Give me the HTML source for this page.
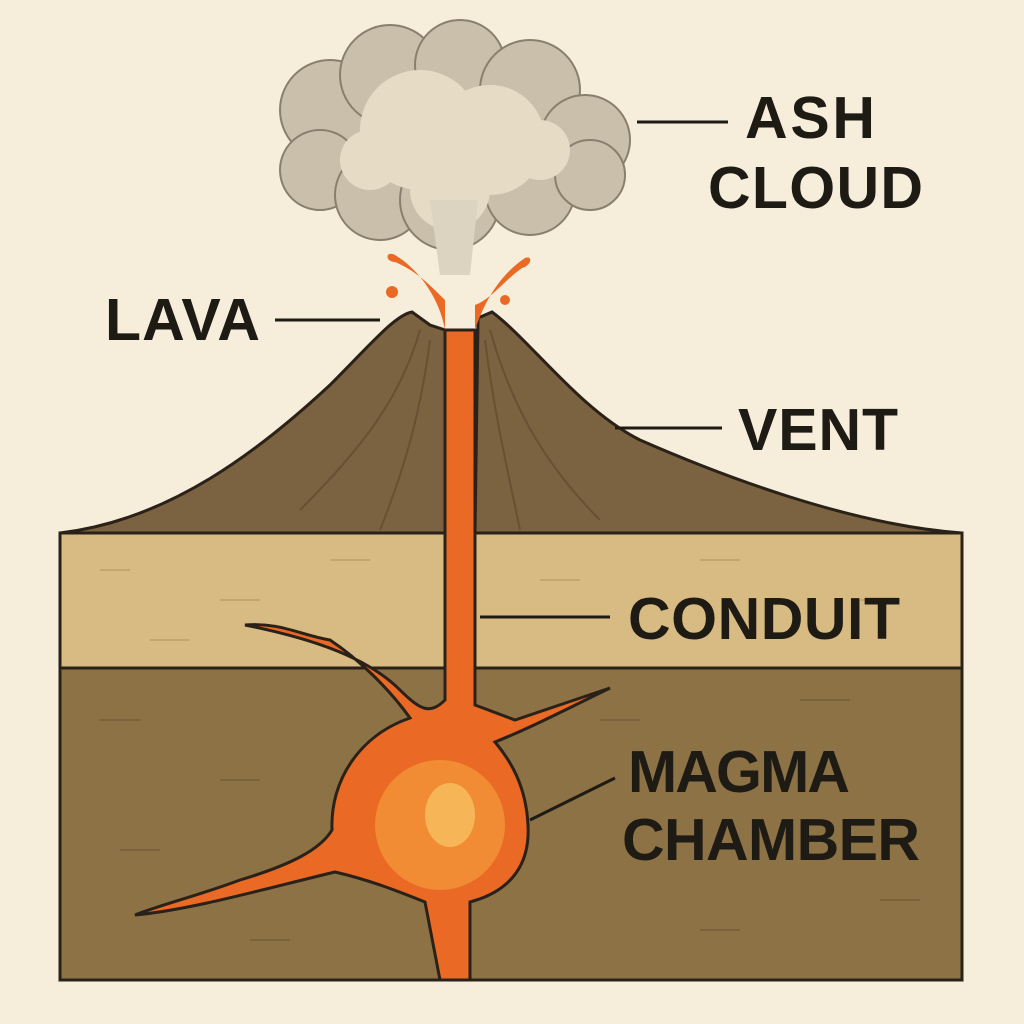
<!DOCTYPE html>
<html><head><meta charset="utf-8"><style>
html,body{margin:0;padding:0;background:#f6eedb;}
svg{display:block}
text{font-family:"Liberation Sans",sans-serif;font-weight:bold;fill:#1e1a14;font-size:59px}
</style></head><body>
<svg width="1024" height="1024" viewBox="0 0 1024 1024">
<rect width="1024" height="1024" fill="#f6eedb"/>
<rect x="60" y="668" width="902" height="312" fill="#8c7245" stroke="#2a2118" stroke-width="3"/>
<rect x="60" y="533" width="902" height="135" fill="#d8bb83" stroke="#2a2118" stroke-width="3"/>
<g stroke="#b89a62" stroke-width="2" opacity="0.6">
<line x1="100" y1="570" x2="130" y2="570"/><line x1="220" y1="600" x2="260" y2="600"/><line x1="330" y1="560" x2="370" y2="560"/><line x1="540" y1="580" x2="580" y2="580"/><line x1="700" y1="560" x2="740" y2="560"/><line x1="860" y1="600" x2="900" y2="600"/><line x1="150" y1="640" x2="190" y2="640"/>
</g>
<g stroke="#6f5833" stroke-width="2" opacity="0.6">
<line x1="100" y1="720" x2="140" y2="720"/><line x1="220" y1="780" x2="260" y2="780"/><line x1="120" y1="850" x2="160" y2="850"/><line x1="600" y1="720" x2="640" y2="720"/><line x1="800" y1="700" x2="850" y2="700"/><line x1="700" y1="930" x2="740" y2="930"/><line x1="250" y1="940" x2="290" y2="940"/><line x1="880" y1="900" x2="920" y2="900"/>
</g>
<path d="M60 533 C170 520 260 450 330 385 C370 345 395 315 412 312 L430 325 L445 330 L445 533 Z" fill="#7b6240" stroke="#2a2118" stroke-width="3"/>
<path d="M962 533 C850 525 720 475 640 440 C580 410 530 340 492 312 L478 318 L475 533 Z" fill="#7b6240" stroke="#2a2118" stroke-width="3"/>
<g stroke="#5d4a30" stroke-width="2" fill="none" opacity="0.7">
<path d="M420 330 C400 400 360 450 300 510"/><path d="M430 340 C420 420 400 480 380 530"/><path d="M490 330 C510 400 540 460 600 520"/><path d="M485 340 C495 420 510 480 520 530"/>
</g>
<path d="M445 330 L445 700 C430 715 420 710 400 690 C370 660 320 640 245 625 C280 622 300 635 330 640 C360 660 390 690 410 718 C360 735 330 780 332 830 C320 850 290 865 240 880 C200 895 160 905 135 915 C190 910 260 890 335 872 C370 880 400 892 425 902 L440 980 L470 980 L470 902 C515 890 530 860 528 825 C526 785 510 760 495 742 C530 728 565 710 610 688 C580 698 545 710 515 720 L475 705 L475 330 Z" fill="#ea6a25" stroke="#2a2118" stroke-width="3"/>
<ellipse cx="440" cy="825" rx="65" ry="65" fill="#f39a3a" opacity="0.7"/>
<ellipse cx="450" cy="815" rx="25" ry="32" fill="#f8c060" opacity="0.8"/>
<path d="M445 330 C440 300 420 270 395 255 C385 250 385 262 395 262 C415 270 430 285 445 300 Z" fill="#ea6a25"/>
<path d="M475 330 C485 300 500 275 525 258 C533 255 532 265 522 268 C505 280 490 300 475 305 Z" fill="#ea6a25"/>
<circle cx="392" cy="292" r="6" fill="#ea6a25"/>
<circle cx="505" cy="300" r="5" fill="#ea6a25"/>
<g fill="#c9bfaa" stroke="#8a7f6c" stroke-width="2">
<circle cx="330" cy="110" r="50"/><circle cx="390" cy="75" r="50"/><circle cx="460" cy="65" r="45"/><circle cx="530" cy="90" r="50"/><circle cx="585" cy="140" r="45"/><circle cx="320" cy="170" r="40"/><circle cx="380" cy="195" r="45"/><circle cx="450" cy="200" r="50"/><circle cx="530" cy="190" r="45"/><circle cx="590" cy="175" r="35"/>
</g>
<g fill="#e6dcc6">
<circle cx="420" cy="130" r="60"/><circle cx="490" cy="140" r="55"/><circle cx="450" cy="190" r="40"/><circle cx="370" cy="160" r="30"/><circle cx="540" cy="150" r="30"/>
</g>
<path d="M430 200 L440 275 L470 275 L478 200 Z" fill="#dcd3c0"/>
<g stroke="#1e1a14" stroke-width="3">
<line x1="637" y1="122" x2="728" y2="122"/>
<line x1="275" y1="320" x2="380" y2="320"/>
<line x1="615" y1="428" x2="722" y2="428"/>
<line x1="480" y1="617" x2="610" y2="617"/>
<line x1="530" y1="820" x2="615" y2="778"/>
</g>
<text x="745" y="138" textLength="130">ASH</text>
<text x="708" y="208" textLength="215">CLOUD</text>
<text x="105" y="340" textLength="155">LAVA</text>
<text x="738" y="450" textLength="160">VENT</text>
<text x="628" y="639" textLength="272">CONDUIT</text>
<text x="628" y="792" textLength="222">MAGMA</text>
<text x="622" y="860" textLength="298">CHAMBER</text>
</svg>
</body></html>
